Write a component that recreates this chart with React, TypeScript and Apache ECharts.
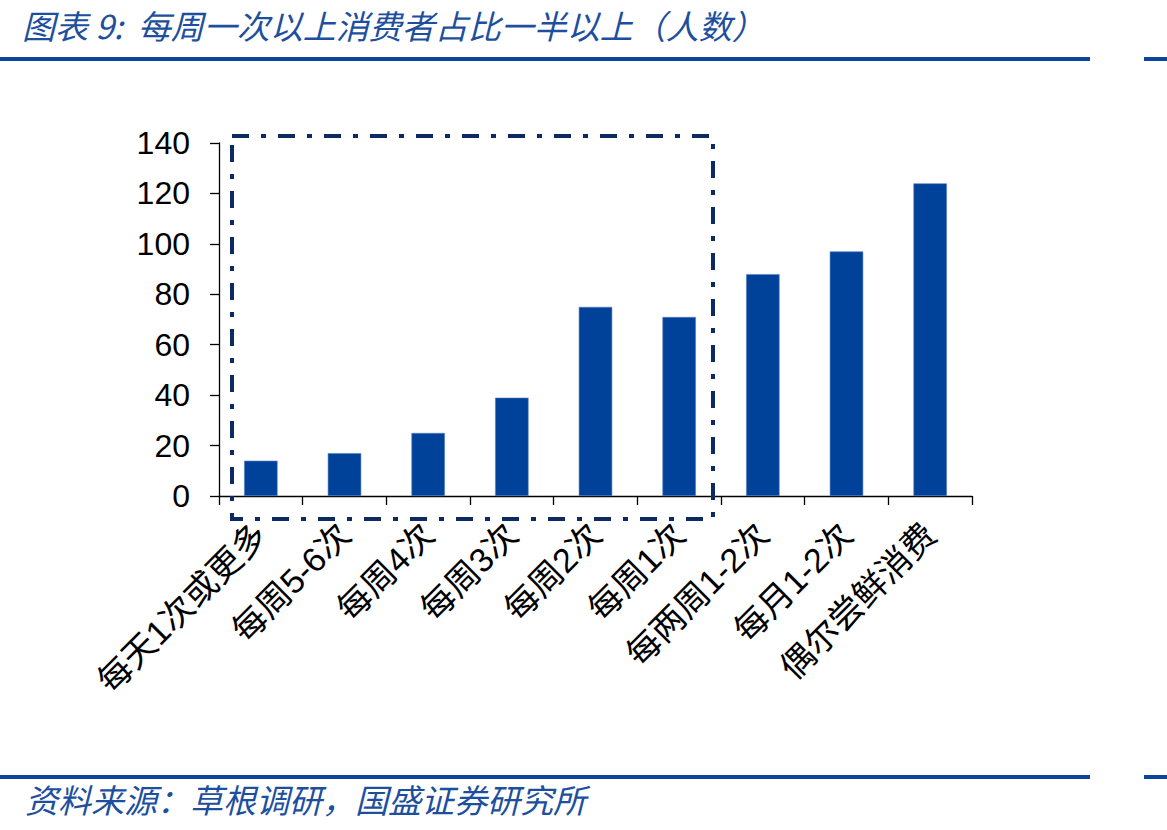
import React, { useEffect, useRef } from "react";
import * as echarts from "echarts";

// Survey results: number of respondents by consumption frequency
const categories = [
  "每天1次或更多",
  "每周5-6次",
  "每周4次",
  "每周3次",
  "每周2次",
  "每周1次",
  "每两周1-2次",
  "每月1-2次",
  "偶尔尝鲜消费",
];
const counts = [14, 17, 25, 39, 75, 71, 88, 97, 124];
const yTicks = { min: 0, max: 140, interval: 20 };

const titleText = "图表 9:  每周一次以上消费者占比一半以上（人数）";
const sourceText = "资料来源：草根调研，国盛证券研究所";

const BLUE = "#00419a";
const RULE = "#0a449b";
const NAVY = "#0d2a62";
const CJK = "'Liberation Sans', Arial, 'Noto Sans CJK SC', sans-serif";

export default function App() {
  const ref = useRef<HTMLDivElement>(null);

  useEffect(() => {
    document.body.style.margin = "0";
    const chart = echarts.init(ref.current!, null, { renderer: "svg" });
    chart.setOption({
      animation: false,
      backgroundColor: "#ffffff",
      grid: { left: 219, right: 195, top: 143, bottom: 334, containLabel: false },
      xAxis: {
        type: "category",
        data: categories,
        boundaryGap: true,
        axisLine: { lineStyle: { color: "#000", width: 1.3 } },
        axisTick: { show: true, length: 9, inside: false, lineStyle: { color: "#000", width: 1.3 } },
        axisLabel: {
          rotate: 45,
          interval: 0,
          margin: 33,
          color: "#000",
          fontSize: 34,
          fontFamily: CJK,
        },
      },
      yAxis: {
        type: "value",
        min: yTicks.min,
        max: yTicks.max,
        interval: yTicks.interval,
        splitLine: { show: false },
        axisLine: { show: true, lineStyle: { color: "#000", width: 1.3 } },
        axisTick: { show: true, length: 9, lineStyle: { color: "#000", width: 1.3 } },
        axisLabel: {
          color: "#000",
          fontSize: 32,
          margin: 29,
          fontFamily: "'Liberation Sans', Arial, sans-serif",
        },
      },
      series: [
        {
          type: "bar",
          data: counts,
          barWidth: "40%",
          itemStyle: { color: BLUE, borderColor: "#5b82c0", borderWidth: 0.6 },
        },
      ],
      graphic: [
        {
          type: "text",
          left: 22,
          top: 8,
          style: {
            text: titleText,
            fill: "#1d4f9e",
            font: "italic 33px 'Noto Sans CJK SC', sans-serif",
          },
        },
        { type: "rect", shape: { x: 0, y: 57, width: 1090, height: 4 }, style: { fill: RULE } },
        { type: "rect", shape: { x: 1144, y: 57, width: 23, height: 4 }, style: { fill: RULE } },
        { type: "rect", shape: { x: 0, y: 775, width: 1090, height: 4 }, style: { fill: RULE } },
        { type: "rect", shape: { x: 1144, y: 775, width: 23, height: 4 }, style: { fill: RULE } },
        {
          type: "text",
          left: 25,
          top: 782,
          style: {
            text: sourceText,
            fill: "#1d4f9e",
            font: "italic 33px 'Noto Sans CJK SC', sans-serif",
          },
        },
        {
          type: "rect",
          z: 10,
          shape: { x: 232, y: 136, width: 481, height: 383 },
          style: {
            fill: "none",
            stroke: NAVY,
            lineWidth: 4,
            lineDash: [17, 12, 5, 12],
          },
        },
      ],
    });
    return () => chart.dispose();
  }, []);

  return <div ref={ref} style={{ width: 1167, height: 830 }} />;
}
